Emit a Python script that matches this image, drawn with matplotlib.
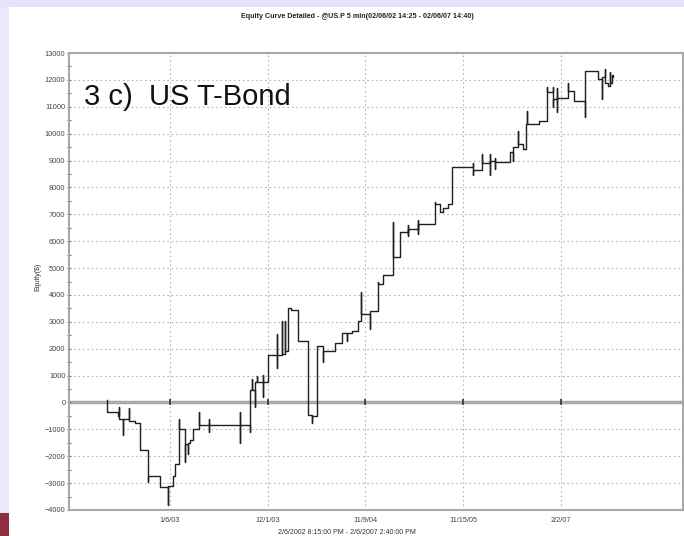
import numpy as np
import matplotlib
matplotlib.use("Agg")
import matplotlib.pyplot as plt
from matplotlib.patches import Rectangle

plt.rcParams['font.family'] = ['Liberation Sans', 'DejaVu Sans']

# equity curve, x in bar-index units (ticks at 1..5), y in dollars (new level at each x)
curve_x = [0.355, 0.355, 0.468, 0.468, 0.480, 0.480, 0.519, 0.519, 0.580, 0.580,
           0.641, 0.693, 0.693, 0.775, 0.775, 0.897, 0.979, 0.979, 1.030, 1.051,
           1.092, 1.092, 1.153, 1.153, 1.180, 1.180, 1.204, 1.235, 1.297, 1.297,
           1.400, 1.400, 1.400, 1.716, 1.716, 1.716, 1.819, 1.819, 1.839, 1.839,
           1.870, 1.870, 1.890, 1.890, 1.952, 1.952, 1.952, 2.003, 2.095, 2.095,
           2.095, 2.146, 2.146, 2.177, 2.177, 2.208, 2.240, 2.310, 2.412, 2.453,
           2.453, 2.504, 2.566, 2.566, 2.689, 2.760, 2.811, 2.811, 2.863, 2.924,
           2.955, 2.955, 3.047, 3.047, 3.129, 3.129, 3.180, 3.282, 3.282, 3.354,
           3.436, 3.436, 3.436, 3.538, 3.538, 3.538, 3.712, 3.712, 3.712, 3.743,
           3.763, 3.794, 3.850, 3.886, 4.101, 4.101, 4.101, 4.193, 4.193, 4.275,
           4.275, 4.275, 4.326, 4.326, 4.326, 4.480, 4.510, 4.510, 4.562, 4.562,
           4.613, 4.644, 4.654, 4.654, 4.777, 4.859, 4.859, 4.859, 4.920, 4.920,
           4.920, 4.961, 4.961, 4.961, 5.074, 5.074, 5.074, 5.135, 5.247, 5.247,
           5.380, 5.421, 5.421, 5.452, 5.452, 5.483, 5.500, 5.500, 5.524, 5.534]
equity = [100, -340, -340, -520, -180, -600, -1200, -630, -220, -700,
          -760, -1100, -1750, -2950, -2750, -3130, -3800, -3100, -2750, -2300,
          -630, -1000, -2200, -1550, -1900, -1500, -1380, -1000, -370, -820,
          -630, -1100, -820, -340, -1500, -820, -1100, 480, 860, 480,
          -150, 750, 970, 750, 1040, 220, 750, 1750, 2530, 1300,
          1750, 3020, 1800, 3020, 1900, 3500, 3430, 2270, -450, -750,
          -500, 2100, 1500, 1900, 2230, 2600, 2270, 2600, 2650, 3020,
          4100, 3280, 2720, 3390, 4470, 4400, 4740, 6710, 5400, 6340,
          6600, 6200, 6450, 6790, 6250, 6640, 7460, 6900, 7400, 7380,
          7080, 7230, 7380, 8760, 8920, 8480, 8650, 9250, 8910, 9250,
          8460, 8990, 9100, 8700, 8950, 9320, 9000, 9500, 10100, 9620,
          9430, 10370, 10850, 10370, 10480, 11750, 11100, 11560, 11750, 11000,
          11300, 11700, 10820, 11340, 11900, 11500, 11600, 11220, 10630, 12340,
          12040, 11300, 12100, 12420, 11900, 11780, 12300, 11900, 12190, 12100]

tick_pos = [1, 2, 3, 4, 5]
tick_labels = ['1/6/03', '12/1/03', '11/9/04', '11/15/05', '2/2/07']
y_ticks = list(range(-4000, 13001, 1000))

fig = plt.figure(figsize=(6.84, 5.36), dpi=100)
fig.patch.set_facecolor('white')

# slide decorations
fig.patches.append(Rectangle((0, 0), 9/684, 1, transform=fig.transFigure,
                             facecolor='#e9e9fb', edgecolor='none', zorder=0))
fig.patches.append(Rectangle((0, 1 - 7/536), 1, 7/536, transform=fig.transFigure,
                             facecolor='#e3e3fb', edgecolor='none', zorder=0))
fig.patches.append(Rectangle((0, 0), 9/684, 23/536, transform=fig.transFigure,
                             facecolor='#8e2f3f', edgecolor='none', zorder=0))

ax = fig.add_axes([69/684, 26/536, 614/684, 457/536])
ax.set_xlim(-0.034, 6.25)
ax.set_ylim(-4000, 13000)

ax.axhline(0, color='#a8a8a8', lw=2.5, zorder=1)
ax.plot(tick_pos, [0] * len(tick_pos), '|', color='#303030', ms=4, mew=1.2, zorder=2)
ax.plot(curve_x, equity, drawstyle='steps-post', color='#202020', lw=1.0, zorder=3)

ax.set_xticks(tick_pos)
ax.set_xticklabels(tick_labels)
ax.set_yticks(y_ticks)
ax.set_yticks(np.arange(-3500, 13000, 1000), minor=True)
ax.grid(True, which='major', color='#b5b5b5', linestyle=(0, (1.5, 2.5)), lw=0.8)
ax.tick_params(axis='both', which='major', labelsize=5.3, labelcolor='#444444',
               color='#707070', length=3, direction='inout', width=0.8)
ax.tick_params(axis='y', which='minor', length=3, direction='inout', color='#707070', width=0.8)
ax.tick_params(axis='x', length=0, pad=5)
ax.tick_params(axis='y', pad=1)

for s in ax.spines.values():
    s.set_color('#a8a8a8')
    s.set_linewidth(1.5)

ax.text(15/614, 0.935, '3 c)  US T-Bond', transform=ax.transAxes,
        fontsize=21, color='#111111', va='top', ha='left')

fig.text(357/684, 1 - 17/536, 'Equity Curve Detailed - @US.P 5 min(02/06/02 14:25 - 02/06/07 14:40)',
         ha='center', va='center', fontsize=5.1, fontweight='bold', color='#222222')
fig.text(347/684, 1 - 532/536, '2/6/2002 8:15:00 PM - 2/6/2007 2:40:00 PM',
         ha='center', va='center', fontsize=5, color='#333333')
fig.text(38/684, 1 - 277/536, 'Equity($)', rotation=90,
         ha='center', va='center', fontsize=5, color='#333333')

fig.savefig('out.png', dpi=100)
